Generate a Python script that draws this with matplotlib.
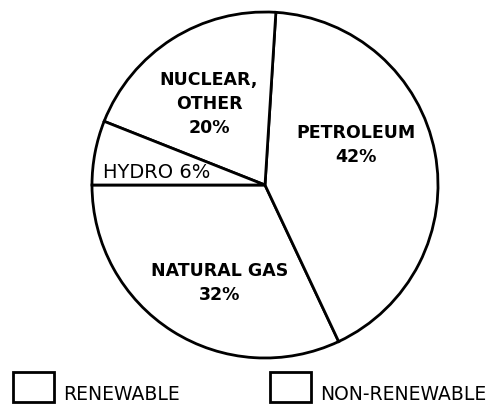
import matplotlib
matplotlib.use("Agg")
import matplotlib.pyplot as plt
from matplotlib.patches import Rectangle

# shares of energy sources (percent), counterclockwise from 9 o'clock
sources = ["NATURAL GAS", "PETROLEUM", "NUCLEAR, OTHER", "HYDRO"]
shares = [32, 42, 20, 6]
legend_labels = ["RENEWABLE", "NON-RENEWABLE"]

# label text and placement (pixel coords, y measured from top)
label_texts = ["NATURAL GAS\n32%", "PETROLEUM\n42%", "NUCLEAR,\nOTHER\n20%", "HYDRO 6%"]
label_pos = [(220, 283), (356, 145), (209, 104), (157, 172)]
label_bold = [True, True, True, False]

W, H = 500, 407
fig = plt.figure(figsize=(W / 100, H / 100), dpi=100)
ax = fig.add_axes([0, 0, 1, 1])

cx, cy, r = 265, 185, 173
ax.pie(shares, startangle=180, counterclock=True, radius=r, center=(cx, H - cy),
       colors=["white"] * len(shares),
       wedgeprops=dict(edgecolor="black", linewidth=2.0), frame=True)

for txt, (x, y), bold in zip(label_texts, label_pos, label_bold):
    ax.text(x, H - y, txt, ha="center", va="center", fontsize=12.5 if bold else 14,
            fontweight="bold" if bold else "normal", family="DejaVu Sans",
            linespacing=1.45, color="black")

# legend boxes (both empty, as in the original scan)
for i, lab in enumerate(legend_labels):
    bx = 13 + i * 257
    ax.add_patch(Rectangle((bx, H - 402), 41, 30, fill=False, edgecolor="black", linewidth=2.0))
    ax.text(bx + 50, H - 394, lab, ha="left", va="center", fontsize=13.5,
            family="DejaVu Sans", color="black")

ax.set_xlim(0, W)
ax.set_ylim(0, H)
ax.set_aspect("auto")
ax.axis("off")

fig.savefig("out.png", dpi=100, facecolor="white")
